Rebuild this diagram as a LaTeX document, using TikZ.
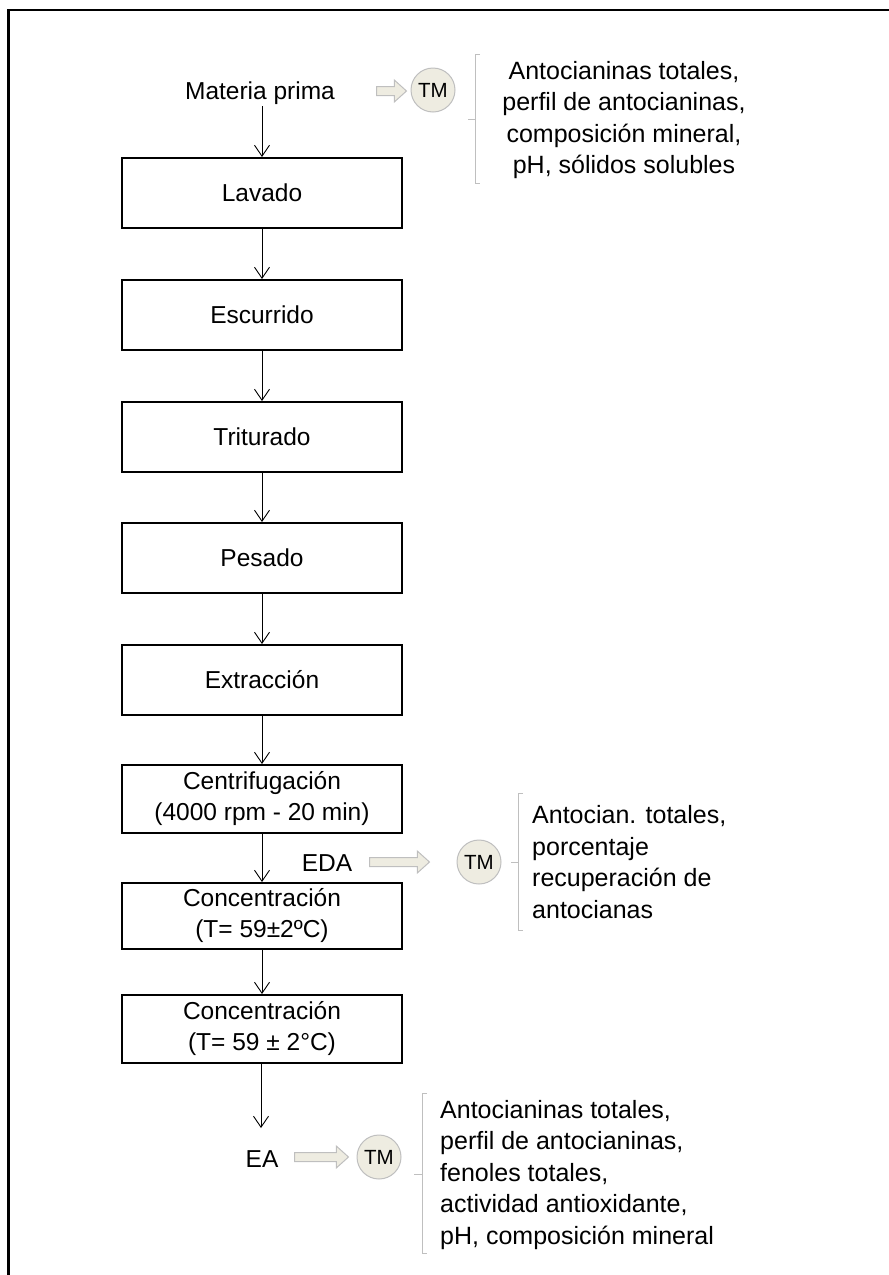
\documentclass[tikz,border=0pt]{standalone}
\usepackage{fontspec}
\setmainfont{Liberation Sans}
\usetikzlibrary{shapes.arrows,arrows.meta}
\definecolor{tmfill}{HTML}{EEECE1}
\definecolor{tmline}{HTML}{BFBFBF}
\tikzset{
  stepbox/.style={draw=black, line width=2pt, minimum width=280pt, minimum height=70pt, inner sep=0pt, align=center, font=\fontsize{24.5}{31}\selectfont},
  lbl/.style={inner sep=0pt, align=center, font=\fontsize{24.5}{31}\selectfont},
  note/.style={inner sep=0pt, font=\fontsize{25}{31.5}\selectfont},
  flow/.style={draw=black, line width=0.9pt, -{Straight Barb[length=11pt,width=15pt,line width=0.9pt]}},
  tmnode/.style={circle, draw=tmline, fill=tmfill, line width=1pt, minimum size=44pt, inner sep=0pt, font=\fontsize{20.5}{20.5}\selectfont},
  blockarrow/.style={single arrow, draw=tmline, fill=tmfill, line width=1pt, minimum width=21pt, single arrow head extend=6.5pt, single arrow tip angle=84, inner xsep=0pt, inner ysep=4pt},
  brace/.style={draw=tmline, line width=1pt}
}
\begin{document}
\begin{tikzpicture}[x=1pt,y=-1pt]
\useasboundingbox (0,0) rectangle (889,1275);
% frame
\draw[line width=2.7pt] (8.5,1300) -- (8.5,10) -- (900,10);

% main flow
\node[lbl] (mp) at (260,93) {Materia prima};
\node[stepbox] (lav) at (262,193) {Lavado};
\node[stepbox] (esc) at (262,315) {Escurrido};
\node[stepbox] (tri) at (262,437) {Triturado};
\node[stepbox] (pes) at (262,558) {Pesado};
\node[stepbox] (ext) at (262,680) {Extracción};
\node[stepbox, minimum height=68pt] (cen) at (262,799) {Centrifugación\\(4000 rpm - 20 min)};
\node[stepbox, minimum height=66pt] (con1) at (262,916) {Concentración\\(T= 59±2ºC)};
\node[stepbox, minimum height=68pt] (con2) at (262,1029) {Concentración\\(T= 59 ± 2°C)};
\node[lbl] (ea) at (262,1159) {EA};
\node[lbl] (eda) at (327,863) {EDA};

\draw[flow] (262,106) -- (lav.north);
\draw[flow] (lav) -- (esc);
\draw[flow] (esc) -- (tri);
\draw[flow] (tri) -- (pes);
\draw[flow] (pes) -- (ext);
\draw[flow] (ext) -- (cen);
\draw[flow] (cen) -- (con1);
\draw[flow] (con1) -- (con2);
\coordinate (eaend) at (261,1128);
\draw[flow] (con2.south -| eaend) -- (eaend);

% top TM
\node[blockarrow, minimum height=30pt] (ba1) at (389,91) {};
\node[tmnode] (tm1) at (433,90) {TM};
\draw[brace] (480,54) -- (475,54) -- (475,183) -- (480,183);
\draw[brace] (475,119) -- (468,119);
\node[note, align=center] (n1) at (624,120) {Antocianinas totales,\\perfil de antocianinas,\\composición mineral,\\pH, sólidos solubles};

% middle TM
\node[blockarrow, minimum height=60pt] (ba2) at (397,862) {};
\node[tmnode] (tm2) at (479,862) {TM};
\draw[brace] (523,793) -- (518,793) -- (518,930) -- (523,930);
\draw[brace] (518,862) -- (511,862);
\node[note, align=left, anchor=west] (n2) at (532,862) {Antocian. totales,\\porcentaje\\recuperación de\\antocianas};

% bottom TM
\node[blockarrow, minimum height=54pt] (ba3) at (319,1157) {};
\node[tmnode] (tm3) at (379,1157) {TM};
\draw[brace] (427,1093) -- (422,1093) -- (422,1253) -- (427,1253);
\draw[brace] (422,1174) -- (414,1174);
\node[note, align=left, anchor=west] (n3) at (440,1175) {Antocianinas totales,\\perfil de antocianinas,\\fenoles totales,\\actividad antioxidante,\\pH, composición mineral};
\end{tikzpicture}
\end{document}
